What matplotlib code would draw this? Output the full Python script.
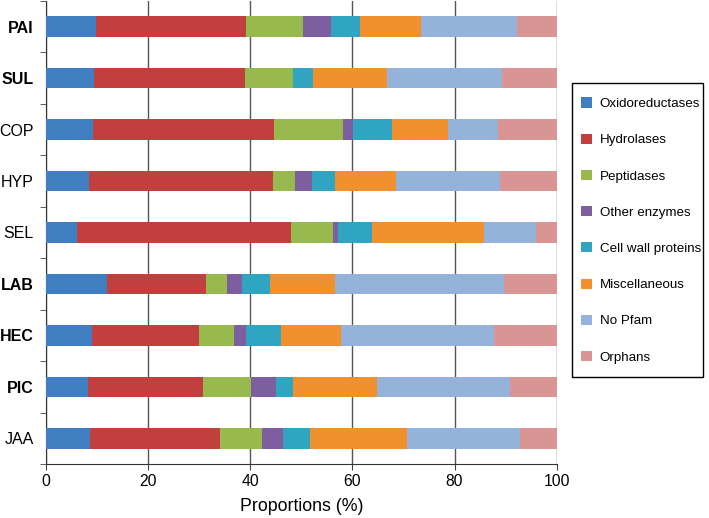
import numpy as np
import matplotlib
matplotlib.use("Agg")
import matplotlib.pyplot as plt
from matplotlib.ticker import FixedLocator
from matplotlib.patches import Rectangle

plt.rcParams["font.family"] = ["Liberation Sans", "DejaVu Sans"]

# categories, top to bottom
samples = ["PAI", "SUL", "COP", "HYP", "SEL", "LAB", "HEC", "PIC", "JAA"]
bold_samples = ["PAI", "SUL", "LAB", "HEC", "PIC"]

# proportions (%), one list per class
oxidoreductases = [9.8, 9.4, 9.3, 8.5, 6.1, 11.9, 9.1, 8.2, 8.7]
hydrolases = [29.3, 29.6, 35.3, 35.9, 41.9, 19.4, 20.9, 22.5, 25.3]
peptidases = [11.2, 9.4, 13.5, 4.4, 8.1, 4.2, 6.9, 9.5, 8.2]
other_enzymes = [5.6, 0.0, 2.1, 3.2, 1.0, 2.9, 2.3, 4.9, 4.3]
cell_wall = [5.6, 3.8, 7.6, 4.5, 6.7, 5.4, 6.9, 3.3, 5.2]
miscellaneous = [11.9, 14.5, 11.0, 12.1, 21.9, 12.8, 11.6, 16.5, 18.9]
no_pfam = [18.9, 22.6, 9.8, 20.2, 10.2, 33.1, 30.0, 26.0, 22.3]
orphans = [7.7, 10.7, 11.4, 11.2, 4.1, 10.3, 12.3, 9.1, 7.1]

series = [
    ("Oxidoreductases", oxidoreductases, "#3F7FC1"),
    ("Hydrolases", hydrolases, "#C1403D"),
    ("Peptidases", peptidases, "#97B94D"),
    ("Other enzymes", other_enzymes, "#7D5FA0"),
    ("Cell wall proteins", cell_wall, "#2FA5C1"),
    ("Miscellaneous", miscellaneous, "#F0902E"),
    ("No Pfam", no_pfam, "#94B2DA"),
    ("Orphans", orphans, "#D99594"),
]

W, H = 709, 518
fig = plt.figure(figsize=(W / 100, H / 100), dpi=100)
ax = fig.add_axes([46 / W, 1 - 464 / H, (556.7 - 46) / W, (464 - 1) / H])

ypos = np.arange(len(samples))
left = np.zeros(len(samples))
for name, vals, color in series:
    vals = np.array(vals)
    ax.barh(ypos, vals, left=left, height=0.4, color=color, label=name,
            edgecolor="none", zorder=3)
    left += vals

ax.set_xlim(0, 100)
ax.set_ylim(len(samples) - 0.5, -0.5)

ax.set_xticks([0, 20, 40, 60, 80, 100])
ax.tick_params(axis="x", labelsize=11.3, length=4, direction="out",
               color="#444444", pad=3)
ax.set_xlabel("Proportions (%)", fontsize=12.8, labelpad=7)

ax.set_yticks(ypos)
ax.set_yticklabels(samples, fontsize=11.5)
for lab in ax.get_yticklabels():
    if lab.get_text() in bold_samples:
        lab.set_fontweight("bold")
ax.tick_params(axis="y", which="major", length=0, pad=9)
ax.yaxis.set_minor_locator(FixedLocator(np.arange(-0.5, len(samples), 1.0)))
ax.tick_params(axis="y", which="minor", length=4, direction="out",
               color="#444444")

ax.grid(axis="x", color="#555555", linewidth=1.0, zorder=0)
ax.set_axisbelow(True)
ax.spines["top"].set_visible(False)
ax.spines["right"].set_visible(False)
ax.spines["left"].set_color("#333333")
ax.spines["bottom"].set_color("#333333")

# legend entries without frame, box drawn separately
leg = fig.legend(loc="upper left", bbox_to_anchor=(581 / W, 1 - 97.5 / H),
                 fontsize=9.6, frameon=False,
                 handlelength=0.8, handleheight=0.8, handletextpad=0.6,
                 labelspacing=1.76, borderpad=0, borderaxespad=0)
fig.patches.append(Rectangle((572 / W, 1 - 377 / H), (703 - 572) / W,
                             (377 - 83) / H, transform=fig.transFigure,
                             facecolor="none", edgecolor="black",
                             linewidth=1.0))

fig.savefig("out.png", dpi=100)
